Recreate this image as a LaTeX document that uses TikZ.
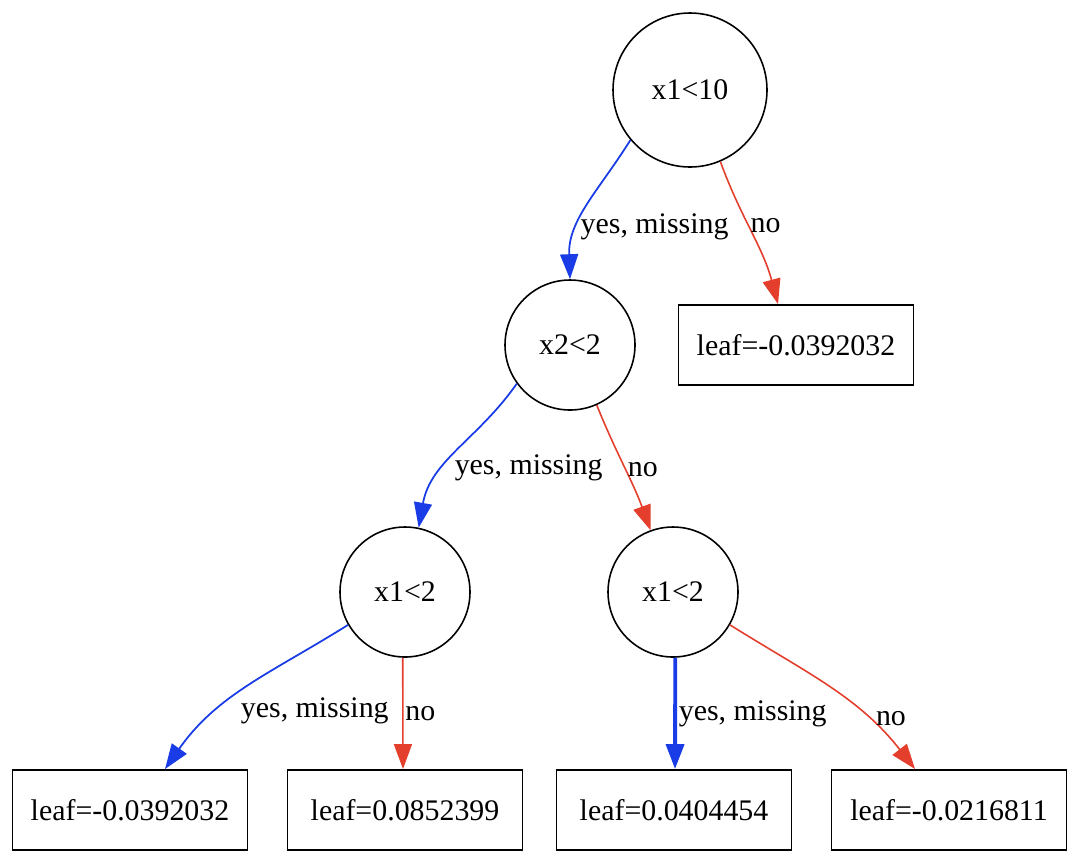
\documentclass[tikz,border=0pt]{standalone}
\usepackage{fontspec}
\setmainfont{Liberation Serif}
\usetikzlibrary{arrows.meta}
\definecolor{yesblue}{RGB}{25,60,230}
\definecolor{nored}{RGB}{228,62,45}
\begin{document}
\begin{tikzpicture}[font=\fontsize{17}{20}\selectfont,
  split/.style={circle,draw,line width=0.9pt,inner sep=0pt,minimum size=2.6cm},
  leaf/.style={rectangle,draw,line width=1.1pt,minimum width=4.7cm,minimum height=1.6cm},
  yesedge/.style={draw=yesblue,line width=1pt,-{Triangle[length=0.5cm,width=0.36cm]},yesblue},
  noedge/.style={draw=nored,line width=0.9pt,-{Triangle[length=0.5cm,width=0.36cm]},nored},
  lbl/.style={text=black,anchor=west,inner sep=1pt}]
  \useasboundingbox (0,0) rectangle (21.6,-17.28);
  \node[split,minimum size=3.08cm] (root) at (13.8,-1.8) {x1<10};
  \node[split] (x2) at (11.4,-6.9) {x2<2};
  \node[leaf] (leafA) at (15.92,-6.9) {leaf=-0.0392032};
  \node[split] (x1L) at (8.1,-11.84) {x1<2};
  \node[split] (x1R) at (13.46,-11.84) {x1<2};
  \node[leaf] (leaf1) at (2.6,-16.2) {leaf=-0.0392032};
  \node[leaf] (leaf2) at (8.1,-16.2) {leaf=0.0852399};
  \node[leaf] (leaf3) at (13.48,-16.2) {leaf=0.0404454};
  \node[leaf] (leaf4) at (18.98,-16.2) {leaf=-0.0216811};

\path (root.220) edge [yesedge, out=238, in=92] node [lbl,pos=0.66] {yes, missing} (x2.north)
      (root.293) edge [noedge, out=290, in=105] node [lbl,pos=0.45] {no} (leafA.north -| 15.56,0)
      (x2.216) edge [yesedge, out=235, in=80] node [lbl,pos=0.63,xshift=0.16cm] {yes, missing} (x1L.78)
      (x2.294) edge [noedge, out=292, in=110] node [lbl,pos=0.52] {no} (x1R.110)
      (x1L.210) edge [yesedge, out=212, in=55] node [lbl,pos=0.68,xshift=0.44cm] {yes, missing} (leaf1.north -| 3.3,0)
      (x1L.-92) edge [noedge] node [lbl,pos=0.5] {no} (leaf2.north -| 8.06,0)
      (x1R.-88) edge [yesedge, line width=2.2pt] node [lbl,pos=0.5] {yes, missing} (leaf3.north -| 13.5,0)
      (x1R.330) edge [noedge, out=-32, in=128] node [lbl,pos=0.72,xshift=3pt] {no} (leaf4.north -| 18.3,0);
\end{tikzpicture}
\end{document}
